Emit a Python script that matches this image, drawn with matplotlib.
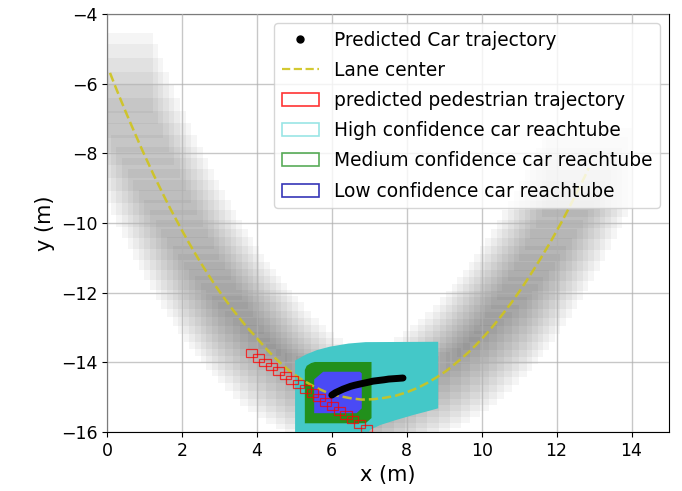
import matplotlib.pyplot as plt
from matplotlib.patches import Rectangle, Polygon, Patch
from matplotlib.lines import Line2D

# lane centre (also the centres of the grey car boxes)
lane_x = [0.08, 0.2, 0.35, 0.5, 0.65, 0.8, 0.95, 1.1, 1.25, 1.4, 1.55, 1.7, 1.85, 2.0,
          2.15, 2.3, 2.45, 2.6, 2.75, 2.9, 3.05, 3.2, 3.35, 3.5, 3.65, 3.8, 3.95, 4.1,
          4.3, 4.5, 4.7, 4.9, 5.15, 5.4, 5.65, 5.9, 6.2, 6.5, 6.8, 7.1, 7.4, 7.7, 8.0,
          8.3, 8.55, 8.8, 9.05, 9.25, 9.45, 9.65, 9.85, 10.05, 10.2, 10.35, 10.5, 10.65,
          10.8, 10.95, 11.1, 11.25, 11.4, 11.55, 11.7, 11.85, 12.0, 12.15, 12.3, 12.45,
          12.6, 12.75, 12.86]
lane_y = [-5.69, -6.02, -6.42, -6.81, -7.19, -7.56, -7.93, -8.28, -8.63, -8.96, -9.29,
          -9.61, -9.91, -10.21, -10.5, -10.78, -11.05, -11.31, -11.56, -11.81, -12.04,
          -12.26, -12.48, -12.68, -12.88, -13.07, -13.24, -13.43, -13.67, -13.89, -14.09,
          -14.27, -14.46, -14.62, -14.76, -14.88, -14.97, -15.03, -15.07, -15.06, -15.02,
          -14.96, -14.86, -14.73, -14.59, -14.43, -14.25, -14.08, -13.9, -13.71, -13.5,
          -13.27, -13.09, -12.9, -12.7, -12.49, -12.28, -12.05, -11.82, -11.57, -11.32,
          -11.06, -10.79, -10.52, -10.23, -9.94, -9.63, -9.32, -9.0, -8.67, -8.42]

# predicted pedestrian boxes (centres)
ped_x = [3.86, 4.04, 4.22, 4.40, 4.58, 4.76, 4.94, 5.12, 5.30, 5.48, 5.66, 5.84, 6.02,
         6.20, 6.38, 6.56, 6.74, 6.92]
ped_y = [-13.74, -13.87, -14.0, -14.12, -14.25, -14.38, -14.5, -14.63, -14.76, -14.88,
         -15.01, -15.14, -15.26, -15.39, -15.52, -15.64, -15.77, -15.9]

# predicted car trajectory
traj_x = [6.0, 6.1, 6.2, 6.3, 6.4, 6.5, 6.6, 6.72, 6.85, 6.98, 7.1, 7.25, 7.4, 7.52, 7.65, 7.78, 7.9]
traj_y = [-14.94, -14.87, -14.82, -14.77, -14.73, -14.69, -14.66, -14.63, -14.6, -14.57,
          -14.54, -14.52, -14.5, -14.48, -14.47, -14.46, -14.45]

# reachtube outlines
high_x = [5.02, 5.02, 5.3, 5.6, 5.95, 6.45, 6.9, 8.84, 8.84, 8.5, 8.18, 7.7, 7.29, 7.02, 6.95, 5.02]
high_y = [-16.1, -13.95, -13.78, -13.65, -13.55, -13.46, -13.42, -13.41, -15.32, -15.42,
          -15.51, -15.66, -15.8, -15.94, -16.1, -16.1]
med_x = [5.28, 5.28, 5.33, 5.45, 5.55, 7.06, 7.06, 6.9, 5.28]
med_y = [-15.75, -14.22, -14.1, -14.02, -13.99, -13.99, -15.6, -15.75, -15.75]
low_x = [5.53, 5.53, 5.77, 6.75, 6.8, 6.8, 6.66, 5.53]
low_y = [-15.46, -14.49, -14.27, -14.27, -14.32, -15.32, -15.46, -15.46]

fig = plt.figure(figsize=(6.82, 4.91), dpi=100)
ax = fig.add_axes([107 / 682, 1 - 432 / 491, 562 / 682, 418 / 491])

# grey boxes along the lane
sq = 2.3
for x, y in zip(lane_x, lane_y):
    ax.add_patch(Rectangle((x - sq / 2, y - sq / 2), sq, sq, facecolor='k',
                           edgecolor='none', alpha=0.04, zorder=1))

ax.add_patch(Polygon(list(zip(high_x, high_y)), closed=True, facecolor='#44c8c8',
                     edgecolor='none', zorder=3))
ax.add_patch(Polygon(list(zip(med_x, med_y)), closed=True, facecolor='#22901c',
                     edgecolor='none', zorder=3))
ax.add_patch(Polygon(list(zip(low_x, low_y)), closed=True, facecolor='#4a4af5',
                     edgecolor='none', zorder=3))

ax.plot(lane_x, lane_y, '--', color='#cfc41c', alpha=0.9, lw=1.8, zorder=5)

pw, ph = 0.3, 0.22
for x, y in zip(ped_x, ped_y):
    ax.add_patch(Rectangle((x - pw / 2, y - ph / 2), pw, ph, fill=False,
                           edgecolor='r', alpha=0.75, lw=0.9, zorder=6))

ax.plot(traj_x, traj_y, '-', color='k', lw=5, solid_capstyle='round', zorder=7)

ax.set_xlim(0, 15)
ax.set_ylim(-16, -4)
ax.set_xticks(range(0, 15, 2))
ax.set_yticks(range(-16, -3, 2))
ax.grid(True, color='#b0b0b0', alpha=0.7, lw=1.0, zorder=4)
ax.set_axisbelow(False)
ax.tick_params(labelsize=12.5)
ax.set_xlabel('x (m)', fontsize=15)
ax.set_ylabel('y (m)', fontsize=15)

handles = [
    Line2D([], [], marker='o', color='k', ls='none', ms=5),
    Line2D([], [], ls='--', color='#cfc41c', alpha=0.9, lw=1.6),
    Patch(fill=False, edgecolor='r', alpha=0.8, lw=1.2),
    Patch(fill=False, edgecolor='c', alpha=0.4, lw=1.2),
    Patch(fill=False, edgecolor='g', alpha=0.65, lw=1.2),
    Patch(fill=False, edgecolor='#2020b0', alpha=0.9, lw=1.2),
]
labels = ['Predicted Car trajectory', 'Lane center', 'predicted pedestrian trajectory',
          'High confidence car reachtube', 'Medium confidence car reachtube',
          'Low confidence car reachtube']
ax.legend(handles, labels, loc='upper right', fontsize=13.4, framealpha=0.8,
          labelspacing=0.6)

fig.savefig('out.png', dpi=100)
